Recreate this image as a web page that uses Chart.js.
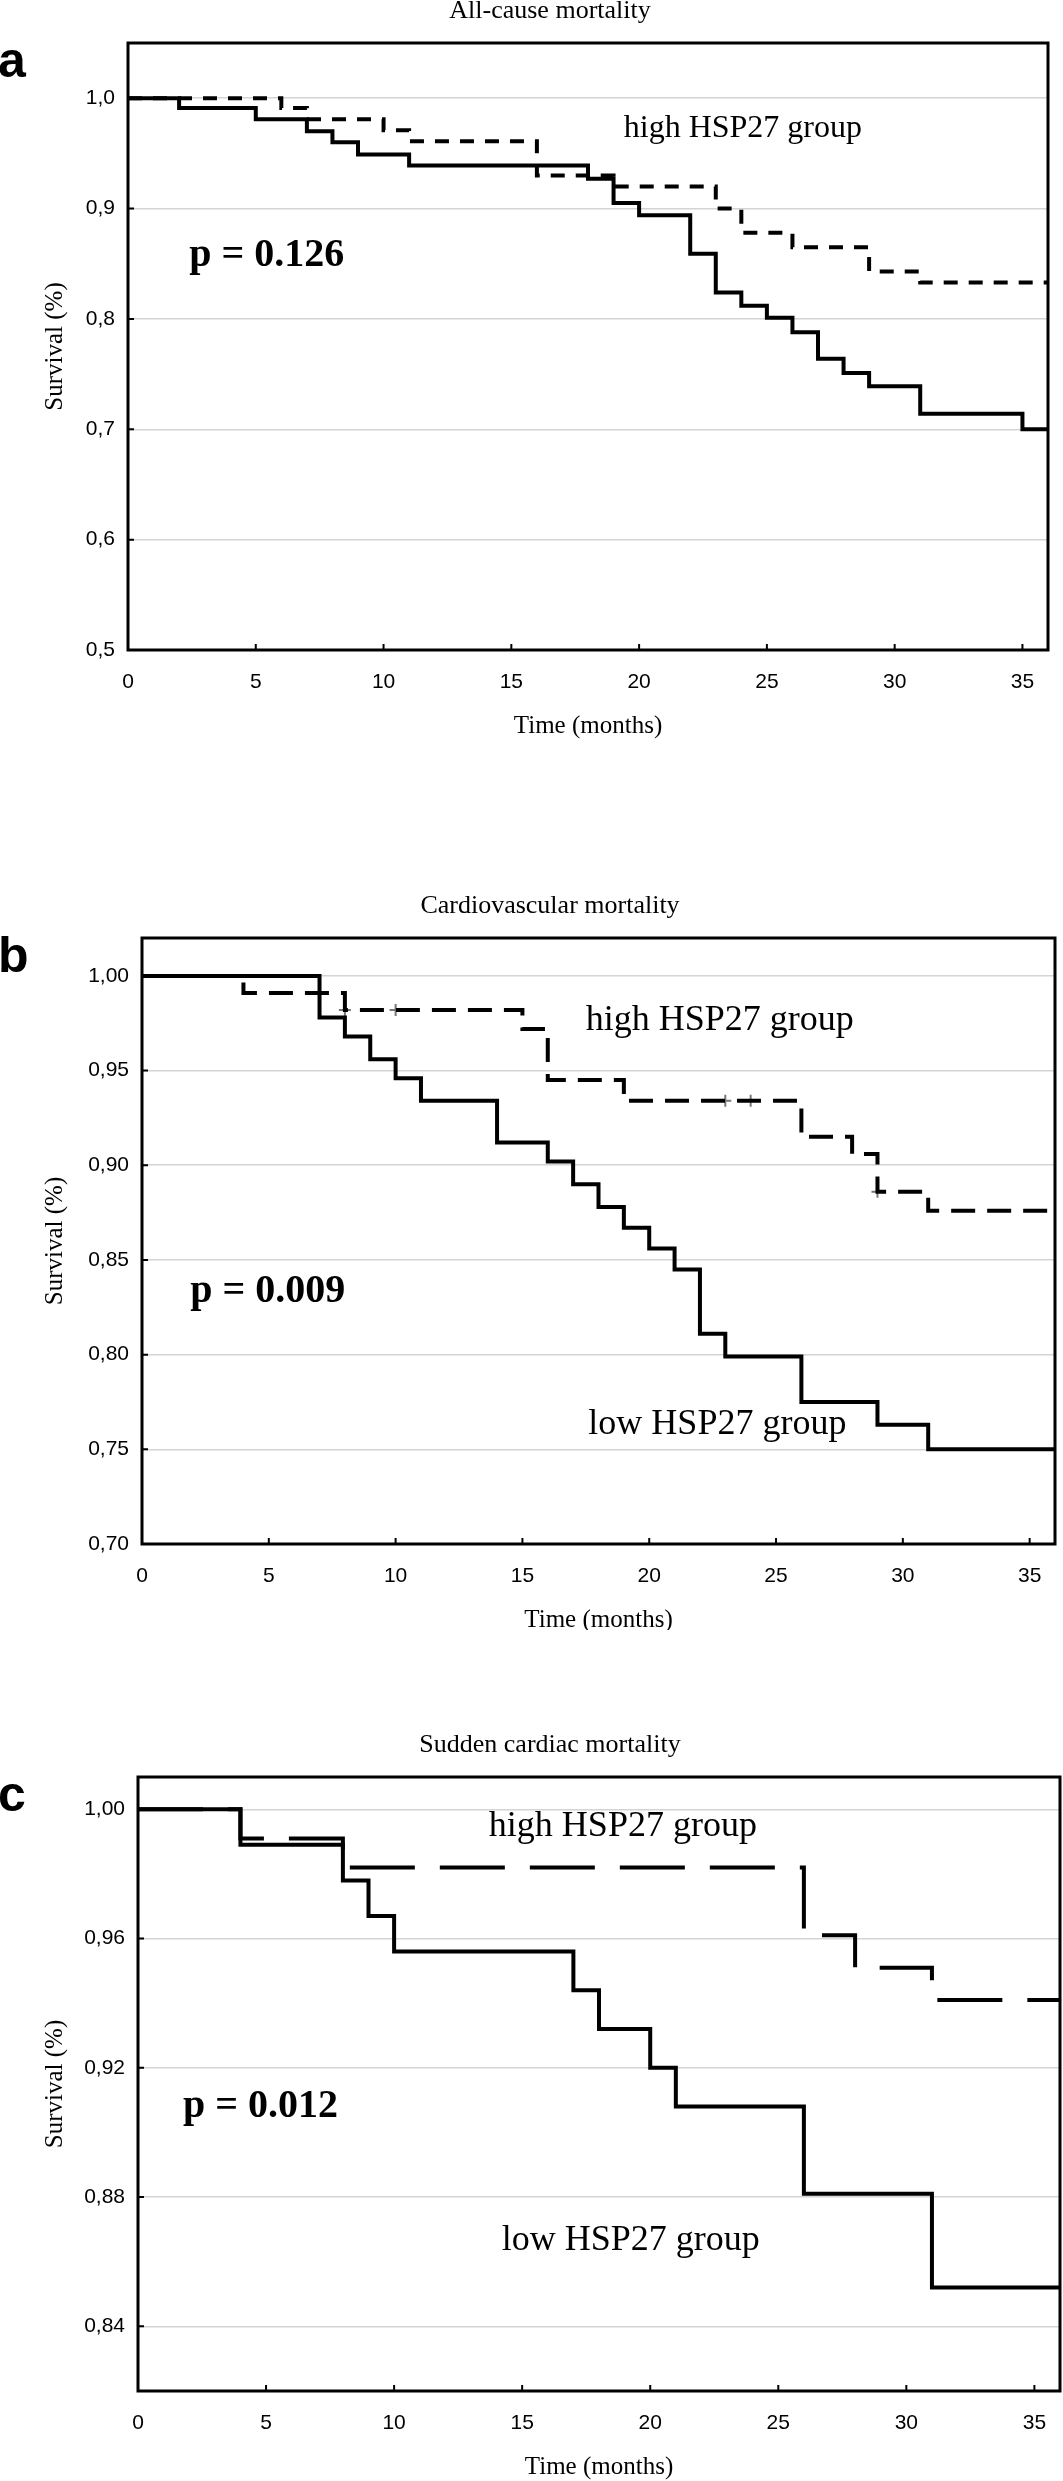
<!DOCTYPE html>
<html>
<head>
<meta charset="utf-8">
<title>HSP27 survival curves</title>
<script src="https://cdn.jsdelivr.net/npm/chart.js@4.4.1/dist/chart.umd.min.js"></script>
<style>
  html, body { margin: 0; padding: 0; background: #fff; }
  .panel { position: absolute; left: 0; }
</style>
</head>
<body>
<canvas id="panel-a" class="panel" width="1063" height="780" style="top:0px"></canvas>
<canvas id="panel-b" class="panel" width="1063" height="850" style="top:780px"></canvas>
<canvas id="panel-c" class="panel" width="1063" height="851" style="top:1630px"></canvas>
<script>
// ---- values (time in months, survival as fraction) ----
const monthTicks = [0, 5, 10, 15, 20, 25, 30, 35];

// a) all-cause mortality
const allCauseYTicks = [0.5, 0.6, 0.7, 0.8, 0.9, 1.0];
const allCauseLowTimes = [0, 2, 5, 7, 8, 9, 11, 18, 19, 20, 22, 23, 24, 25, 26, 27, 28, 29, 31, 35, 36];
const allCauseLowSurv = [1, 0.991, 0.981, 0.970, 0.960, 0.949, 0.939, 0.927, 0.905, 0.894, 0.859, 0.824, 0.812, 0.801, 0.788, 0.764, 0.751, 0.739, 0.714, 0.700, 0.700];
const allCauseHighTimes = [0, 6, 7, 10, 11, 16, 19, 23, 24, 26, 29, 31, 36];
const allCauseHighSurv = [1, 0.991, 0.981, 0.971, 0.961, 0.930, 0.920, 0.900, 0.878, 0.865, 0.843, 0.833, 0.833];

// b) cardiovascular mortality
const cardioYTicks = [0.70, 0.75, 0.80, 0.85, 0.90, 0.95, 1.00];
const cardioLowTimes = [0, 7, 8, 9, 10, 11, 14, 16, 17, 18, 19, 20, 21, 22, 23, 26, 29, 31, 36];
const cardioLowSurv = [1, 0.978, 0.968, 0.956, 0.946, 0.934, 0.912, 0.902, 0.890, 0.878, 0.867, 0.856, 0.845, 0.811, 0.799, 0.775, 0.763, 0.750, 0.750];
const cardioHighTimes = [0, 4, 8, 15, 16, 19, 26, 28, 29, 31, 36];
const cardioHighSurv = [1, 0.991, 0.982, 0.972, 0.945, 0.934, 0.915, 0.906, 0.886, 0.876, 0.876];
const cardioCensorTimes = [7, 8, 10, 23, 24, 29];
const cardioCensorSurv = [0.991, 0.982, 0.982, 0.934, 0.934, 0.886];

// c) sudden cardiac mortality
const suddenYTicks = [0.84, 0.88, 0.92, 0.96, 1.00];
const suddenLowTimes = [0, 4, 8, 9, 10, 17, 18, 20, 21, 26, 31, 36];
const suddenLowSurv = [1, 0.989, 0.978, 0.967, 0.956, 0.944, 0.932, 0.920, 0.908, 0.881, 0.852, 0.852];
const suddenHighTimes = [0, 4, 8, 26, 28, 31, 36];
const suddenHighSurv = [1, 0.991, 0.982, 0.961, 0.951, 0.941, 0.941];

const SANS = '"Liberation Sans", Arial, sans-serif';
const SERIF = '"Liberation Serif", "Times New Roman", serif';
const X_AXIS_H = 45;

const panels = [
    {
        id: 'panel-a', canvasTop: 0, canvasH: 780,
        letter: 'a', title: 'All-cause mortality',
        yMin: 0.5, yMax: 1.05, yTicks: allCauseYTicks, decimals: 1,
        area: { left: 128, right: 1048, top: 43, bottom: 650 },
        dash: [14, 11],
        low: [allCauseLowTimes, allCauseLowSurv],
        high: [allCauseHighTimes, allCauseHighSurv],
        censor: null,
        notes: [
            { text: 'high HSP27 group', x: 19.4, y: 0.965, size: 32 },
            { text: 'p = 0.126', x: 2.4, y: 0.848, size: 40, bold: true }
        ]
    },
    {
        id: 'panel-b', canvasTop: 780, canvasH: 850,
        letter: 'b', title: 'Cardiovascular mortality',
        yMin: 0.70, yMax: 1.02, yTicks: cardioYTicks, decimals: 2,
        area: { left: 142, right: 1057, top: 938, bottom: 1544 },
        dash: [24, 12],
        low: [cardioLowTimes, cardioLowSurv],
        high: [cardioHighTimes, cardioHighSurv],
        censor: [cardioCensorTimes, cardioCensorSurv],
        notes: [
            { text: 'high HSP27 group', x: 17.5, y: 0.9716, size: 36 },
            { text: 'low HSP27 group', x: 17.6, y: 0.758, size: 36 },
            { text: 'p = 0.009', x: 1.9, y: 0.828, size: 40, bold: true }
        ]
    },
    {
        id: 'panel-c', canvasTop: 1630, canvasH: 851,
        letter: 'c', title: 'Sudden cardiac mortality',
        yMin: 0.82, yMax: 1.01, yTicks: suddenYTicks, decimals: 2,
        area: { left: 138, right: 1060, top: 1777, bottom: 2391 },
        dash: [65, 25],
        low: [suddenLowTimes, suddenLowSurv],
        high: [suddenHighTimes, suddenHighSurv],
        censor: null,
        notes: [
            { text: 'high HSP27 group', x: 13.7, y: 0.9917, size: 36 },
            { text: 'low HSP27 group', x: 14.2, y: 0.8637, size: 36 },
            { text: 'p = 0.012', x: 1.76, y: 0.9047, size: 40, bold: true }
        ]
    }
];

function toPoints(times, surv) {
    return times.map((t, i) => ({ x: t, y: surv[i] }));
}

// frame, inward ticks and all the text of one panel
function decorPlugin(cfg) {
    return {
        id: 'decor_' + cfg.letter,
        afterDraw(chart) {
            const { ctx, chartArea: a, scales: { x, y } } = chart;
            ctx.save();
            ctx.strokeStyle = '#000';
            ctx.lineWidth = 2;
            ctx.beginPath();
            x.ticks.forEach(t => {
                const px = x.getPixelForValue(t.value);
                ctx.moveTo(px, a.bottom);
                ctx.lineTo(px, a.bottom - 6);
            });
            y.ticks.forEach(t => {
                const py = y.getPixelForValue(t.value);
                ctx.moveTo(a.left, py);
                ctx.lineTo(a.left + 6, py);
            });
            ctx.stroke();

            ctx.lineWidth = 3;
            ctx.strokeRect(a.left, a.top, a.right - a.left, a.bottom - a.top);

            ctx.fillStyle = '#000';
            // panel title
            ctx.font = '26px ' + SERIF;
            ctx.textAlign = 'center';
            ctx.textBaseline = 'middle';
            ctx.fillText(cfg.title, 550, a.top - 32);
            // axis titles
            ctx.font = '25px ' + SERIF;
            ctx.fillText('Time (months)', (a.left + a.right) / 2, a.bottom + 76);
            ctx.save();
            ctx.translate(55, (a.top + a.bottom) / 2);
            ctx.rotate(-Math.PI / 2);
            ctx.fillText('Survival (%)', 0, 0);
            ctx.restore();
            // panel letter
            ctx.textAlign = 'left';
            ctx.textBaseline = 'alphabetic';
            ctx.font = 'bold 50px ' + SANS;
            ctx.fillText(cfg.letter, -2, a.top + 34);
            // group labels and p value
            cfg.notes.forEach(n => {
                ctx.font = (n.bold ? 'bold ' : '') + n.size + 'px ' + SERIF;
                ctx.fillText(n.text, x.getPixelForValue(n.x), y.getPixelForValue(n.y));
            });
            ctx.restore();
        }
    };
}

function buildPanel(cfg) {
    const area = cfg.area;
    const datasets = [
        {
            label: 'low HSP27 group',
            data: toPoints(cfg.low[0], cfg.low[1]),
            borderColor: '#000',
            borderWidth: 4,
            stepped: true,
            pointRadius: 0,
            fill: false
        },
        {
            label: 'high HSP27 group',
            data: toPoints(cfg.high[0], cfg.high[1]),
            borderColor: '#000',
            borderWidth: 4,
            borderDash: cfg.dash,
            stepped: true,
            pointRadius: 0,
            fill: false
        }
    ];
    if (cfg.censor) {
        datasets.push({
            label: 'censored',
            data: toPoints(cfg.censor[0], cfg.censor[1]),
            showLine: false,
            pointStyle: 'cross',
            pointRadius: 6,
            pointBorderWidth: 2,
            pointBorderColor: '#777',
            borderColor: '#777'
        });
    }

    new Chart(document.getElementById(cfg.id), {
        type: 'line',
        data: { datasets: datasets },
        options: {
            responsive: false,
            animation: false,
            layout: {
                padding: {
                    top: area.top - cfg.canvasTop,
                    right: 1063 - area.right,
                    bottom: cfg.canvasH - (area.bottom - cfg.canvasTop) - X_AXIS_H,
                    left: 0
                }
            },
            plugins: {
                legend: { display: false },
                tooltip: { enabled: false }
            },
            scales: {
                x: {
                    type: 'linear',
                    min: 0,
                    max: 36,
                    afterBuildTicks: s => { s.ticks = monthTicks.map(v => ({ value: v })); },
                    afterFit: s => { s.height = X_AXIS_H; },
                    grid: { display: false },
                    border: { display: false },
                    ticks: {
                        padding: 12,
                        color: '#000',
                        font: { family: SANS, size: 21 },
                        maxRotation: 0
                    }
                },
                y: {
                    type: 'linear',
                    min: cfg.yMin,
                    max: cfg.yMax,
                    afterBuildTicks: s => { s.ticks = cfg.yTicks.map(v => ({ value: v })); },
                    afterFit: s => { s.width = area.left; },
                    grid: { color: '#d4d4d4', lineWidth: 1.5, drawTicks: false },
                    border: { display: false },
                    ticks: {
                        padding: 13,
                        color: '#000',
                        font: { family: SANS, size: 21 },
                        callback: v => v.toFixed(cfg.decimals).replace('.', ',')
                    }
                }
            }
        },
        plugins: [decorPlugin(cfg)]
    });
}

panels.forEach(buildPanel);
</script>
</body>
</html>
